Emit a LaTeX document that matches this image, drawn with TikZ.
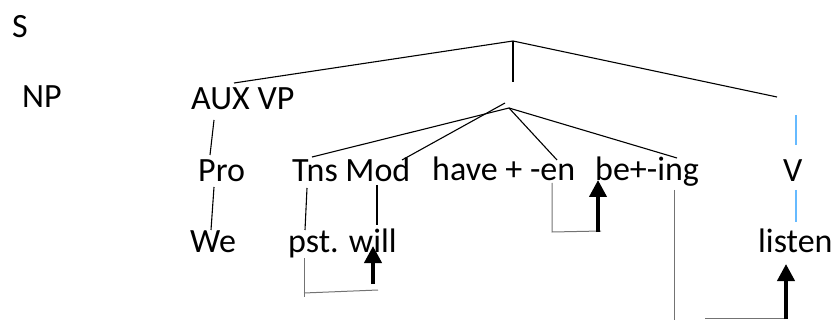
\documentclass[tikz,border=0pt]{standalone}
\usepackage{fontspec}
\setmainfont{Carlito}
\usetikzlibrary{arrows.meta}
\begin{document}
\begin{tikzpicture}[x=1pt,y=-1pt,
  lbl/.style={anchor=base west,inner sep=0pt,font=\fontsize{34}{40}\selectfont},
  branch/.style={line width=1.1pt,black},
  vbranch/.style={line width=1.1pt,color=blue!45!cyan!60!white},
  guide/.style={line width=1pt,black!55},
  raise/.style={line width=4pt,-{Triangle[width=17pt,length=17pt]}}]
\useasboundingbox (0,0) rectangle (834,320);

% labels
\node[lbl] (s)    at (12,38)  {S};
\node[lbl] (np)   at (22,108) {NP};
\node[lbl] (auxvp) at (191,110) {AUX VP};
\node[lbl] (pro)  at (198,182) {Pro};
\node[lbl] (tnsmod) at (292,182) {Tns Mod};
\node[lbl] (haveen) at (432,181) {have + -en};
\node[lbl] (being) at (595,181) {be+-ing};
\node[lbl] (v)    at (783,182) {V};
\node[lbl] (we)   at (190,252) {We};
\node[lbl] (pstwill) at (288,252) {pst. will};
\node[lbl] (listen) at (758,252) {listen};

% branch points
\coordinate (top)  at (513,41);
\coordinate (topL) at (234,83);
\coordinate (topR) at (777,97);
\coordinate (topD) at (513,82);
\coordinate (mid)  at (509,108);
\coordinate (midX) at (505,103);
\coordinate (tnsT) at (312,157);
\coordinate (modT) at (402,160);
\coordinate (enT)  at (557,160);
\coordinate (ingT) at (677,158);

% upper tree
\draw[branch] (topL) -- (top) -- (topR);
\draw[branch] (top) -- (topD);
\draw[branch] (mid) -- (tnsT);
\draw[branch] (midX) -- (modT);
\draw[branch] (mid) -- (enT);
\draw[branch] (mid) -- (ingT);

% V column
\coordinate (vA) at (796,115);
\coordinate (vB) at (796,145);
\coordinate (vC) at (796,190);
\coordinate (vD) at (796,222);
\draw[vbranch] (vA) -- (vB);
\draw[vbranch] (vC) -- (vD);

% lower branches
\coordinate (auxA) at (214,120);
\coordinate (auxB) at (210,155);
\coordinate (proA) at (214,187);
\coordinate (proB) at (211,230);
\coordinate (tnsA) at (307,188);
\coordinate (tnsB) at (305,230);
\coordinate (modA) at (377,185);
\coordinate (modB) at (377,225);
\draw[branch] (auxA) -- (auxB);
\draw[branch] (proA) -- (proB);
\draw[branch] (tnsA) -- (tnsB);
\draw[branch] (modA) -- (modB);

% affix hopping: pst. -> will
\coordinate (p1) at (304,258);
\coordinate (p2) at (304,297);
\coordinate (p3) at (304,293);
\coordinate (p4) at (378,290);
\coordinate (w1) at (373,284);
\coordinate (w2) at (373,246);
\draw[guide] (p1) -- (p2);
\draw[guide] (p3) -- (p4);
\draw[raise] (w1) -- (w2);

% -en -> be
\coordinate (e1) at (552,183);
\coordinate (e2) at (552,232);
\coordinate (e3) at (601,231);
\coordinate (b1) at (598,232);
\coordinate (b2) at (598,180);
\draw[guide] (e1) -- (e2) -- (e3);
\draw[raise] (b1) -- (b2);

% -ing -> listen
\coordinate (i1) at (674,190);
\coordinate (i2) at (674,320);
\coordinate (h1) at (705,318);
\coordinate (h2) at (787,318);
\coordinate (l1) at (786,319);
\coordinate (l2) at (786,264);
\draw[guide] (i1) -- (i2);
\draw[guide] (h1) -- (h2);
\draw[raise] (l1) -- (l2);
\end{tikzpicture}
\end{document}
